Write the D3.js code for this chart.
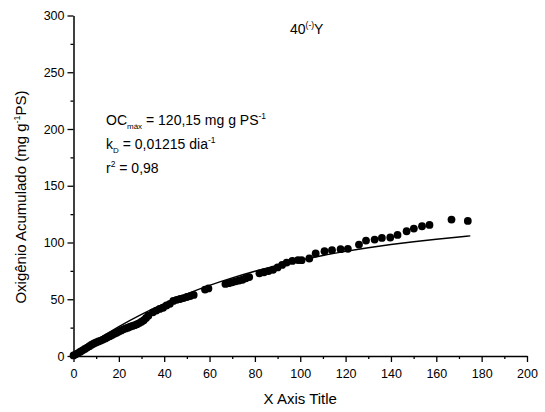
<!DOCTYPE html>
<head>
    <meta charset="utf-8">
    <style>
        body { margin: 0; background: #fff; }
        text { font-family: "Liberation Sans", Arial, sans-serif; fill: #000; }
    </style>
    <script src="https://d3js.org/d3.v7.min.js"></script>
</head>
<body>
    <div id="block"></div>
    <script>

        // measured points (dia, mg g-1 PS)
        var days = [0, 1, 2, 3, 4, 5, 6, 7, 8, 9, 10, 11, 12, 13, 14, 15, 16, 17, 18, 19,
                    20, 21, 22, 23, 24, 25, 26, 27, 28, 29, 30, 31, 32, 33,
                    35, 36.5, 38, 39.5, 41, 42.5, 44, 45.5, 47, 48.5, 50, 51.5, 53,
                    58, 59.5, 67, 68.5, 70, 71.5, 73, 74.5, 76, 77.5,
                    82, 84, 86, 88, 90, 92, 94, 96.5, 99, 100.6, 104, 106.8,
                    110.7, 114, 117.8, 121, 125.9, 129, 132.8, 136, 139.7, 142.9,
                    146.9, 150.1, 153.7, 157, 166.7, 173.9];
        var oxygen = [0.5, 1.5, 2.6, 3.8, 5, 6.2, 7.4, 8.7, 10, 11, 12, 12.8, 13.6, 14.5, 15.5, 16.5, 17.5, 18.5, 19.5, 20.5,
                      21.5, 22.5, 23.5, 24.3, 25, 25.8, 26.5, 27.2, 28, 29, 30.2, 31.5, 33.5, 35.5,
                      38.5, 40, 41.5, 42.5, 44.5, 46, 48.5, 49.5, 50.2, 51, 52, 52.8, 53.8,
                      58.5, 59.5, 63.5, 64.2, 65, 65.8, 66.5, 67.2, 68.5, 69.5,
                      72.8, 73.8, 74.8, 76, 78, 80.2, 82.3, 83.8, 84.5, 84.4, 85.9, 90.3,
                      92.3, 93.2, 94.1, 94.4, 98.2, 101.7, 102.6, 104, 104.4, 106.7,
                      109.9, 112.3, 114.3, 115.5, 120.2, 119];

        // fitted curve OC = OCmax (1 - exp(-kD t)), values at fit_days
        var fit_days = [0, 10, 20, 30, 40, 50, 60, 70, 80, 90, 100, 110, 120, 130, 140, 150, 160, 170, 175];
        var fit_values = [0, 13.7, 25.9, 36.7, 46.2, 54.7, 62.2, 68.8, 74.7, 79.9, 84.5, 88.6, 92.2, 95.4, 98.2, 100.7, 102.9, 104.9, 105.8];

        var x_ticks = [0, 20, 40, 60, 80, 100, 120, 140, 160, 180, 200];
        var y_ticks = [0, 50, 100, 150, 200, 250, 300];

        var w = 545,
            h = 412;

        var margin = {left: 73.5, right: 18, top: 15.5, bottom: 56};

        var svg = d3.select("#block")
                    .append("svg")
                    .attr("width", w)
                    .attr("height", h);

        var x = d3.scaleLinear()
                  .domain([0, 200])
                  .range([margin.left, w - margin.right]);

        var y = d3.scaleLinear()
                  .domain([0, 300])
                  .range([h - margin.bottom, margin.top]);

        // minor ticks
        svg.append("g")
           .attr("transform", "translate(0," + y(0) + ")")
           .call(d3.axisBottom(x).tickValues(d3.range(10, 200, 20)).tickSize(3).tickFormat(""))
           .call(g => g.select(".domain").remove())
           .call(g => g.selectAll("line").attr("stroke", "#000").attr("stroke-width", 1.3));

        svg.append("g")
           .attr("transform", "translate(" + x(0) + ",0)")
           .call(d3.axisLeft(y).tickValues(d3.range(25, 300, 50)).tickSize(3).tickFormat(""))
           .call(g => g.select(".domain").remove())
           .call(g => g.selectAll("line").attr("stroke", "#000").attr("stroke-width", 1.3));

        // major axes
        var xAxis = svg.append("g")
           .attr("transform", "translate(0," + y(0) + ")")
           .call(d3.axisBottom(x).tickValues(x_ticks).tickSize(6).tickSizeOuter(0));

        var yAxis = svg.append("g")
           .attr("transform", "translate(" + x(0) + ",0)")
           .call(d3.axisLeft(y).tickValues(y_ticks).tickSize(6).tickSizeOuter(0));

        [xAxis, yAxis].forEach(function(a) {
            a.select(".domain").attr("stroke", "#000").attr("stroke-width", 1.5);
            a.selectAll("line").attr("stroke", "#000").attr("stroke-width", 1.3);
            a.selectAll("text").style("font-size", "12.5px")
             .style("font-family", "'Liberation Sans', Arial, sans-serif").attr("fill", "#000");
        });
        xAxis.selectAll("text").attr("dy", "1.05em");
        yAxis.selectAll("text").attr("x", -9);

        // fitted line
        var line = d3.line()
                     .x(function(d, i) { return x(fit_days[i]); })
                     .y(function(d) { return y(d); })
                     .curve(d3.curveMonotoneX);

        svg.append("path")
           .datum(fit_values)
           .attr("d", line)
           .attr("fill", "none")
           .attr("stroke", "#000")
           .attr("stroke-width", 1.4);

        // points
        svg.append("g")
           .selectAll("circle")
           .data(oxygen)
           .enter()
           .append("circle")
           .attr("cx", function(d, i) { return x(days[i]); })
           .attr("cy", function(d) { return y(d); })
           .attr("r", 3.9)
           .attr("fill", "#000");

        // axis titles
        svg.append("text")
           .attr("x", x(100))
           .attr("y", 404)
           .attr("text-anchor", "middle")
           .style("font-size", "15px")
           .text("X Axis Title");

        var yt = svg.append("text")
           .attr("transform", "translate(26," + 197 + ") rotate(-90)")
           .attr("text-anchor", "middle")
           .style("font-size", "15px");
        yt.append("tspan").text("Oxigênio Acumulado (mg g");
        yt.append("tspan").attr("dy", -6).style("font-size", "9px").text("-1");
        yt.append("tspan").attr("dy", 6).text("PS)");

        // sample label
        var lab = svg.append("text")
           .attr("x", 290)
           .attr("y", 34)
           .style("font-size", "14px");
        lab.append("tspan").text("40");
        lab.append("tspan").attr("dy", -6).style("font-size", "8.5px").text("(-)");
        lab.append("tspan").attr("dy", 6).text("Y");

        // fit parameters
        var t1 = svg.append("text").attr("x", 106).attr("y", 125).style("font-size", "14px");
        t1.append("tspan").text("OC");
        t1.append("tspan").attr("dy", 4).style("font-size", "8px").text("máx");
        t1.append("tspan").attr("dy", -4).text(" = 120,15 mg g PS");
        t1.append("tspan").attr("dy", -6).style("font-size", "8.5px").text("-1");

        var t2 = svg.append("text").attr("x", 106).attr("y", 149).style("font-size", "14px");
        t2.append("tspan").text("k");
        t2.append("tspan").attr("dy", 4).style("font-size", "8px").text("D");
        t2.append("tspan").attr("dy", -4).text(" = 0,01215 dia");
        t2.append("tspan").attr("dy", -6).style("font-size", "8.5px").text("-1");

        var t3 = svg.append("text").attr("x", 106).attr("y", 173).style("font-size", "14px");
        t3.append("tspan").text("r");
        t3.append("tspan").attr("dy", -6).style("font-size", "8.5px").text("2");
        t3.append("tspan").attr("dy", 6).text(" = 0,98");

    </script>
</body>
